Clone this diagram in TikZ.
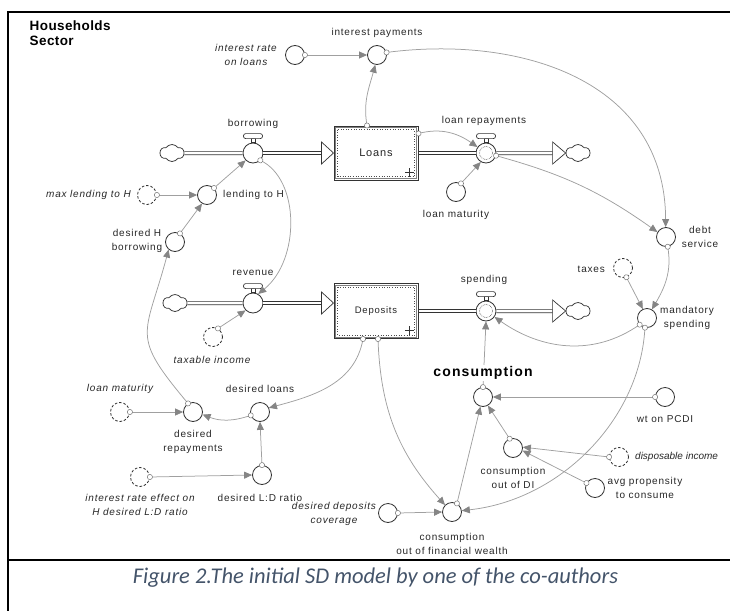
\documentclass[tikz,border=0pt]{standalone}
\usepackage{fontspec}
\setmainfont{Liberation Sans}
\newfontfamily\dlabf[LetterSpace=8]{Liberation Sans}
\newfontfamily\ttlf[LetterSpace=3]{Liberation Sans}
\newfontfamily\capf{Carlito}
\usetikzlibrary{arrows.meta,shapes.symbols,decorations.markings}
\definecolor{capcol}{HTML}{44546A}
\definecolor{lkcol}{HTML}{A0A0A0}
\definecolor{arrcol}{HTML}{858585}
\definecolor{edgecol}{HTML}{333333}
\begin{document}
\begin{tikzpicture}[x=1pt,y=1pt,
 aux/.style={circle, draw=edgecol, line width=0.8pt, fill=white, minimum size=19pt, inner sep=0},
 ghost/.style={aux, dash pattern=on 2.6pt off 1.8pt},
 valve/.style={circle, draw=edgecol, line width=0.8pt, fill=white, minimum size=20pt, inner sep=0},
 cld/.style={cloud, cloud puffs=6, cloud puff arc=110, aspect=1.5, draw=edgecol, line width=0.75pt, minimum width=24pt, minimum height=17pt, inner sep=0, fill=white},
 stock/.style={draw=edgecol, line width=1pt, fill=white, minimum width=84pt, minimum height=54pt, inner sep=0},
 pipe/.style={draw=edgecol, line width=0.7pt, double=white, double distance=2.6pt},
 tri/.style={draw=edgecol, line width=0.7pt, fill=white, line join=miter},
 lk/.style={draw=lkcol, line width=0.75pt, -{Triangle[length=8pt,width=7pt,color=arrcol]}, postaction={decorate}, decoration={markings, mark=at position 0 with {\draw[draw=black!55, fill=white, line width=0.5pt] (0,0) circle (2.6pt);}}},
 lab/.style={font=\dlabf\fontsize{10}{13.5}\selectfont, text=black!85, inner sep=0, align=center},
 ilab/.style={font=\dlabf\itshape\fontsize{10}{13.5}\selectfont, text=black!85, inner sep=0, align=center},
]
\useasboundingbox (0,0) rectangle (730,-610);
% frame
\draw[line width=1.8pt] (8,-612) -- (8,-12) -- (732,-12);
\draw[line width=1.8pt] (8,-560) -- (732,-560);

% nodes
\node[aux] (irl) at (295,-55) {};
\node[aux] (ip) at (377,-55) {};
\node[stock] (loans) at (376,-153) {};
\node[valve] (bv) at (253,-153) {};
\node[cld] (c1) at (172,-153) {};
\node[valve] (lr) at (486,-153) {};
\node[cld] (c2) at (578,-153) {};
\node[aux] (lm) at (456,-192) {};
\node[aux] (ds) at (666,-237) {};
\node[aux] (lth) at (207,-195) {};
\node[ghost] (mlh) at (147,-195) {};
\node[aux] (dhb) at (175,-242) {};
\node[stock, minimum height=55pt] (dep) at (376,-311) {};
\node[valve] (rv) at (253,-303) {};
\node[cld] (c3) at (175,-303) {};
\node[valve] (sp) at (486,-311) {};
\node[cld] (c4) at (578,-311) {};
\node[ghost] (ti) at (213,-337) {};
\node[ghost] (tax) at (623,-268) {};
\node[aux] (ms) at (647,-318) {};
\node[aux] (cons) at (483,-397) {};
\node[aux] (wt) at (665,-397) {};
\node[aux] (codi) at (513,-448) {};
\node[ghost] (di) at (619,-457) {};
\node[aux] (apc) at (595,-488) {};
\node[aux] (cofw) at (452,-512) {};
\node[aux] (ddc) at (388,-513) {};
\node[aux] (dl) at (260,-412) {};
\node[aux] (dr) at (193,-412) {};
\node[ghost] (lm2) at (120,-412) {};
\node[ghost] (ire) at (140,-477) {};
\node[aux] (ldr) at (262,-475) {};

% stock details
\foreach \s in {loans,dep} {
 \draw[black!50, line width=0.4pt] ([shift={(2,-2)}]\s.north west) rectangle ([shift={(-2,2)}]\s.south east);
 \draw[black!70, line width=0.6pt, dotted] ([shift={(4,-4)}]\s.north west) rectangle ([shift={(-4,4)}]\s.south east);
 \draw[edgecol, line width=0.8pt] ([shift={(-13.5,8.5)}]\s.south east) -- ++(9,0) ([shift={(-9,4)}]\s.south east) -- ++(0,9);
}
\node[font=\dlabf\fontsize{11}{13}\selectfont, text=black!85] at (loans) {Loans};
\node[font=\dlabf\fontsize{9.5}{12}\selectfont, text=black!85] at (dep) {Deposits};

% valve handles
\foreach \v in {bv,lr,rv,sp} {
 \draw[edgecol, line width=0.6pt, fill=white] ([xshift=-2pt]\v.north) rectangle ([xshift=2pt,yshift=4pt]\v.north);
 \draw[edgecol, line width=0.7pt, fill=white, rounded corners=2.2pt] ([xshift=-9.5pt,yshift=4pt]\v.north) rectangle ([xshift=9.5pt,yshift=9pt]\v.north);
}
\foreach \v in {lr,sp} \draw[black!70, densely dotted, line width=0.6pt] (\v) circle (6.5pt);

% pipes
\draw[pipe] (c1.east) -- (bv.west);
\draw[pipe] (bv.east) -- ([xshift=-12pt]loans.west);
\draw[tri] ([xshift=-12pt,yshift=11pt]loans.west) -- (loans.west) -- ([xshift=-12pt,yshift=-11pt]loans.west) -- cycle;
\draw[pipe] (loans.east) -- (lr.west);
\draw[pipe] (lr.east) -- ([xshift=-13pt]c2.west);
\draw[tri] ([xshift=-13pt,yshift=11pt]c2.west) -- (c2.west) -- ([xshift=-13pt,yshift=-11pt]c2.west) -- cycle;
\draw[pipe] (c3.east) -- (rv.west);
\draw[pipe] (rv.east) -- ([xshift=-12pt,yshift=8pt]dep.west);
\draw[tri] ([xshift=-12pt,yshift=19pt]dep.west) -- ([yshift=8pt]dep.west) -- ([xshift=-12pt,yshift=-3pt]dep.west) -- cycle;
\draw[pipe] (dep.east) -- (sp.west);
\draw[pipe] (sp.east) -- ([xshift=-13pt]c4.west);
\draw[tri] ([xshift=-13pt,yshift=11pt]c4.west) -- (c4.west) -- ([xshift=-13pt,yshift=-11pt]c4.west) -- cycle;

% connectors
\draw[lk] (irl.east) -- (ip.west);
\draw[lk] ([xshift=-9pt]loans.north) to[out=100,in=-105] (ip.-100);
\draw[lk] (ip.15) .. controls (520,-35) and (665,-80) .. (ds.92);
\draw[lk] ([yshift=-8pt]loans.north east) to[out=15,in=145] (lr.145);
\draw[lk] (lm.60) -- (lr.-120);
\draw[lk] (lr.-15) to[bend left=10] (ds.150);
\draw[lk] (ds.-80) to[out=-80,in=60] (ms.60);
\draw[lk] (tax.-70) -- (ms.115);
\draw[lk] (ms.-138) to[out=-145,in=-35] (sp.-35);
\draw[lk] (ms.-102) .. controls (640,-420) and (560,-500) .. (cofw.8);
\draw[lk] (cons.north) -- (sp.south);
\draw[lk] (wt.west) -- (cons.east);
\draw[lk] (codi.110) -- (cons.-60);
\draw[lk] (di.west) -- (codi.5);
\draw[lk] (apc.150) -- (codi.-15);
\draw[lk] (cofw.60) -- (cons.-105);
\draw[lk] (ddc.east) -- (cofw.west);
\draw[lk] ([xshift=2pt]dep.south) to[bend right=20] (cofw.135);
\draw[lk] ([xshift=-13pt]dep.south) to[out=-100,in=15] (dl.25);
\draw[lk] (dl.-160) to[bend left=20] (dr.-15);
\draw[lk] (dr.120) to[out=130,in=-105,looseness=1.5] (dhb.-130);
\draw[lk] (lm2.east) -- (dr.west);
\draw[lk] (ldr.north) -- (dl.south);
\draw[lk] (ire.east) -- (ldr.west);
\draw[lk] (dhb.60) -- (lth.-120);
\draw[lk] (mlh.east) -- (lth.west);
\draw[lk] (lth.45) -- (bv.-135);
\draw[lk] (bv.-45) .. controls +(40,-19) and +(42,34) .. (rv.60);
\draw[lk] (ti.60) -- (rv.-135);

% labels
\node[anchor=north west, font=\ttlf\bfseries\fontsize{13.5}{15}\selectfont, align=left, inner sep=0] at (29.5,-20.5) {Households\\Sector};
\node[lab] at (377,-33) {interest payments};
\node[ilab] at (246,-55) {interest rate\\on loans};
\node[lab] at (253,-124) {borrowing};
\node[lab] at (484,-121) {loan repayments};
\node[lab] at (456,-215) {loan maturity};
\node[lab] at (700,-237) {debt\\service};
\node[lab, anchor=west] at (223,-195) {lending to H};
\node[ilab, anchor=east] at (131,-195) {max lending to H};
\node[lab] at (137,-241) {desired H\\borrowing};
\node[lab] at (253,-273) {revenue};
\node[lab] at (484,-280) {spending};
\node[lab, anchor=east] at (605,-269) {taxes};
\node[lab] at (687,-318) {mandatory\\spending};
\node[ilab] at (212,-360) {taxable income};
\node[font=\dlabf\bfseries\fontsize{14}{16}\selectfont, text=black, fill=white, inner sep=1pt] at (483,-373) {consumption};
\node[lab] at (665,-419) {wt on PCDI};
\node[ilab, anchor=west, font=\itshape\fontsize{10}{13.5}\selectfont] at (635,-457) {disposable income};
\node[lab] at (645,-488) {avg propensity\\to consume};
\node[lab] at (513,-478) {consumption\\out of DI};
\node[lab] at (452,-544) {consumption\\out of financial wealth};
\node[ilab] at (334,-514) {desired deposits\\coverage};
\node[lab] at (260,-389) {desired loans};
\node[lab] at (193,-442) {desired\\repayments};
\node[ilab] at (120,-389) {loan maturity};
\node[ilab] at (140,-505) {interest rate effect on\\H desired L:D ratio};
\node[lab] at (260,-498) {desired L:D ratio};

% caption
\node[font=\capf\itshape\fontsize{22.5}{26}\selectfont, text=capcol, anchor=base, inner sep=0] at (375.5,-583) {Figure 2.The initial SD model by one of the co-authors};
\end{tikzpicture}
\end{document}
